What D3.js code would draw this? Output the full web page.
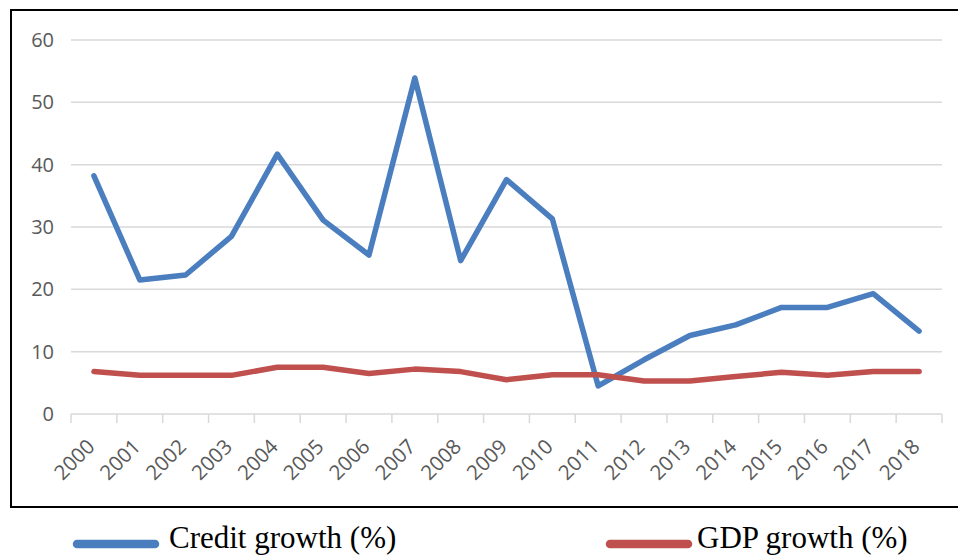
<!DOCTYPE html>
<html>
<head>
<meta charset="utf-8">
<script src="https://cdn.jsdelivr.net/npm/d3@7"></script>
<style>
  html, body { margin: 0; padding: 0; background: #fff; }
  svg { display: block; }
</style>
</head>
<body>
<svg id="chart" width="958" height="556"></svg>
<script>
const years = ["2000","2001","2002","2003","2004","2005","2006","2007","2008","2009","2010","2011","2012","2013","2014","2015","2016","2017","2018"];
const creditGrowth = [38.2, 21.5, 22.3, 28.5, 41.7, 31.1, 25.5, 53.9, 24.6, 37.6, 31.3, 4.5, 8.7, 12.6, 14.3, 17.1, 17.1, 19.3, 13.3];
const gdpGrowth = [6.8, 6.2, 6.2, 6.2, 7.5, 7.5, 6.5, 7.2, 6.8, 5.5, 6.3, 6.3, 5.3, 5.3, 6.0, 6.7, 6.2, 6.8, 6.8];
const yTicks = [0, 10, 20, 30, 40, 50, 60];
const seriesNames = ["Credit growth (%)", "GDP growth (%)"];
const seriesColors = ["#4A7EBF", "#C0504D"];

(function () {
const svg = d3.select("#chart");
svg.append("rect").attr("width", 958).attr("height", 556).attr("fill", "#fff");

// outer frame
svg.append("rect")
  .attr("x", 11).attr("y", 10).attr("width", 1000).attr("height", 497)
  .attr("fill", "none").attr("stroke", "#000").attr("stroke-width", 2);

const pLeft = 71, pRight = 942, pTop = 40, pBottom = 414;
const x = d3.scaleBand().domain(years).range([pLeft, pRight]).padding(0);
const y = d3.scaleLinear().domain([0, 60]).range([pBottom, pTop]);

// gridlines
svg.append("g").selectAll("line").data(yTicks.filter(d => d > 0)).join("line")
  .attr("x1", pLeft).attr("x2", pRight)
  .attr("y1", d => y(d)).attr("y2", d => y(d))
  .attr("stroke", "#D9D9D9").attr("stroke-width", 1.5);

// y axis labels
const yAxis = svg.append("g").attr("transform", `translate(${pLeft},0)`)
  .call(d3.axisLeft(y).tickValues(yTicks).tickSize(0).tickPadding(17));
yAxis.select(".domain").remove();
yAxis.selectAll("text")
  .attr("font-family", "'Open Sans', sans-serif").attr("font-size", 20)
  .attr("fill", "#595959");

// x axis
const boundaries = d3.range(years.length + 1).map(i => pLeft + i * x.bandwidth());
const xAxis = svg.append("g");
xAxis.append("line")
  .attr("x1", pLeft).attr("x2", pRight).attr("y1", pBottom).attr("y2", pBottom)
  .attr("stroke", "#D9D9D9").attr("stroke-width", 1.5);
xAxis.selectAll("line.tick").data(boundaries).join("line")
  .attr("class", "tick")
  .attr("x1", d => d).attr("x2", d => d).attr("y1", pBottom).attr("y2", pBottom + 9)
  .attr("stroke", "#D9D9D9").attr("stroke-width", 1.5);
xAxis.selectAll("text").data(years).join("text")
  .attr("transform", d => `translate(${x(d) + x.bandwidth() / 2 + 2},${pBottom + 34}) rotate(-45)`)
  .attr("text-anchor", "end")
  .attr("font-family", "'Open Sans', sans-serif").attr("font-size", 20.5)
  .attr("fill", "#595959")
  .text(d => d);

// lines
const line = d3.line()
  .x((d, i) => x(years[i]) + x.bandwidth() / 2)
  .y(d => y(d));

[creditGrowth, gdpGrowth].forEach((s, k) => {
  svg.append("path").datum(s)
    .attr("d", line)
    .attr("fill", "none")
    .attr("stroke", seriesColors[k])
    .attr("stroke-width", 5.5)
    .attr("stroke-linejoin", "round")
    .attr("stroke-linecap", "round");
});

// legend
const legendX = [77, 610];
seriesNames.forEach((name, k) => {
  const g = svg.append("g").attr("transform", `translate(${legendX[k]},544)`);
  g.append("line").attr("x1", 0).attr("x2", 78).attr("y1", 0).attr("y2", 0)
    .attr("stroke", seriesColors[k]).attr("stroke-width", 8.5).attr("stroke-linecap", "round");
  g.append("text").attr("x", k === 0 ? 92 : 87).attr("y", 4)
    .attr("font-family", "'Liberation Serif', 'Times New Roman', serif")
    .attr("font-size", 31).attr("fill", "#000")
    .text(name);
});
})();
</script>
</body>
</html>
